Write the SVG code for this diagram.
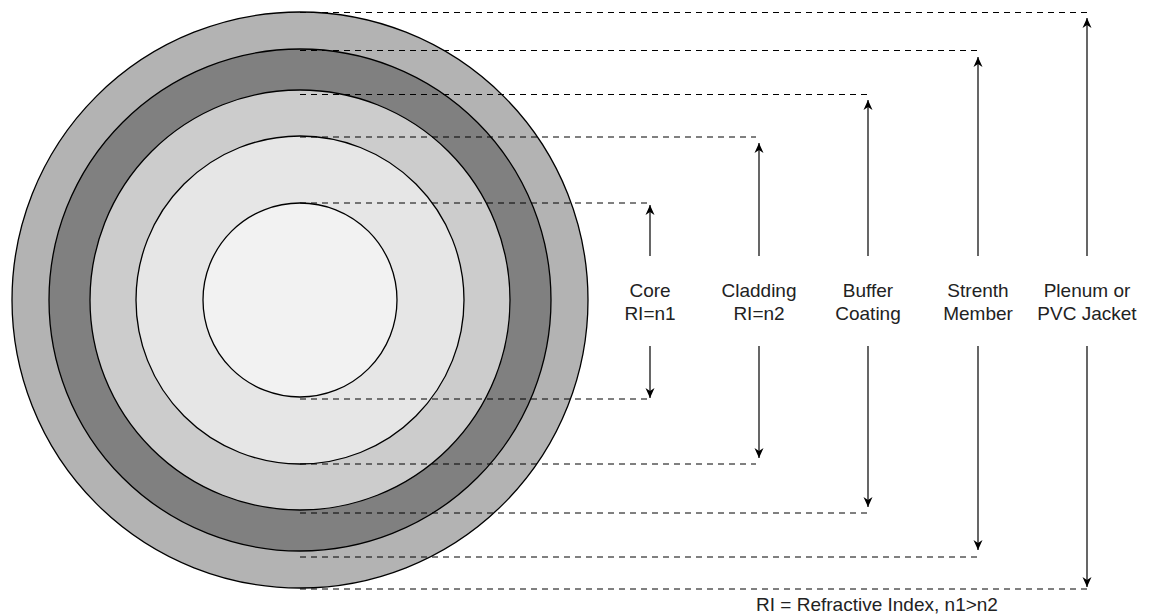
<svg xmlns="http://www.w3.org/2000/svg" width="1152" height="615" viewBox="0 0 1152 615">
<style>
.ring{stroke:#000;stroke-width:1.3}
.dash{stroke:#000;stroke-width:1;stroke-dasharray:6 5;fill:none}
.arr{stroke:#000;stroke-width:1.2;fill:none;marker-end:url(#ah)}
.lbl{font-family:"Liberation Sans",Arial,sans-serif;font-size:19px;fill:#222;text-anchor:middle}
</style>
<defs>
<marker id="ah" markerUnits="userSpaceOnUse" markerWidth="12" markerHeight="12" refX="10" refY="5" orient="auto">
<path d="M0,0.5 L10,5 L0,9.5 L3,5 Z" fill="#000"/>
</marker>
</defs>
<g id="cable">
<circle id="jacket" class="ring" cx="300" cy="300" r="288" fill="#b3b3b3"/>
<circle id="strength" class="ring" cx="300" cy="300" r="251" fill="#808080"/>
<circle id="buffer" class="ring" cx="300" cy="300" r="210" fill="#cccccc"/>
<circle id="cladding" class="ring" cx="300" cy="300" r="164" fill="#e6e6e6"/>
<circle id="core" class="ring" cx="300" cy="300" r="97" fill="#f2f2f2"/>
</g>
<g id="connectors">
<line class="dash" x1="300" y1="12.5" x2="1087" y2="12.5"/>
<line class="dash" x1="300" y1="50.5" x2="977" y2="50.5"/>
<line class="dash" x1="300" y1="94.5" x2="867" y2="94.5"/>
<line class="dash" x1="300" y1="137" x2="756" y2="137"/>
<line class="dash" x1="300" y1="203" x2="647" y2="203"/>
<line class="dash" x1="300" y1="399" x2="647" y2="399"/>
<line class="dash" x1="300" y1="464" x2="756" y2="464"/>
<line class="dash" x1="300" y1="513" x2="867" y2="513"/>
<line class="dash" x1="300" y1="557" x2="977" y2="557"/>
<line class="dash" x1="300" y1="589" x2="1087" y2="589"/>
<line class="arr" x1="650" y1="256" x2="650" y2="205"/>
<line class="arr" x1="650" y1="346" x2="650" y2="398"/>
<line class="arr" x1="759" y1="256" x2="759" y2="143"/>
<line class="arr" x1="759" y1="346" x2="759" y2="458"/>
<line class="arr" x1="868" y1="256" x2="868" y2="100"/>
<line class="arr" x1="868" y1="346" x2="868" y2="507"/>
<line class="arr" x1="978" y1="256" x2="978" y2="57"/>
<line class="arr" x1="978" y1="346" x2="978" y2="550"/>
<line class="arr" x1="1087" y1="256" x2="1087" y2="18"/>
<line class="arr" x1="1087" y1="346" x2="1087" y2="587"/>
</g>
<g id="label-core"><text class="lbl" x="650" y="297">Core</text><text class="lbl" x="650" y="319.5">RI=n1</text></g>
<g id="label-cladding"><text class="lbl" x="759" y="297">Cladding</text><text class="lbl" x="759" y="319.5">RI=n2</text></g>
<g id="label-buffer"><text class="lbl" x="868" y="297">Buffer</text><text class="lbl" x="868" y="319.5">Coating</text></g>
<g id="label-strength"><text class="lbl" x="978" y="297">Strenth</text><text class="lbl" x="978" y="319.5">Member</text></g>
<g id="label-jacket"><text class="lbl" x="1087" y="297">Plenum or</text><text class="lbl" x="1087" y="319.5">PVC Jacket</text></g>
<g id="note"><text class="lbl" x="877" y="611">RI = Refractive Index, n1&gt;n2</text></g>
</svg>
